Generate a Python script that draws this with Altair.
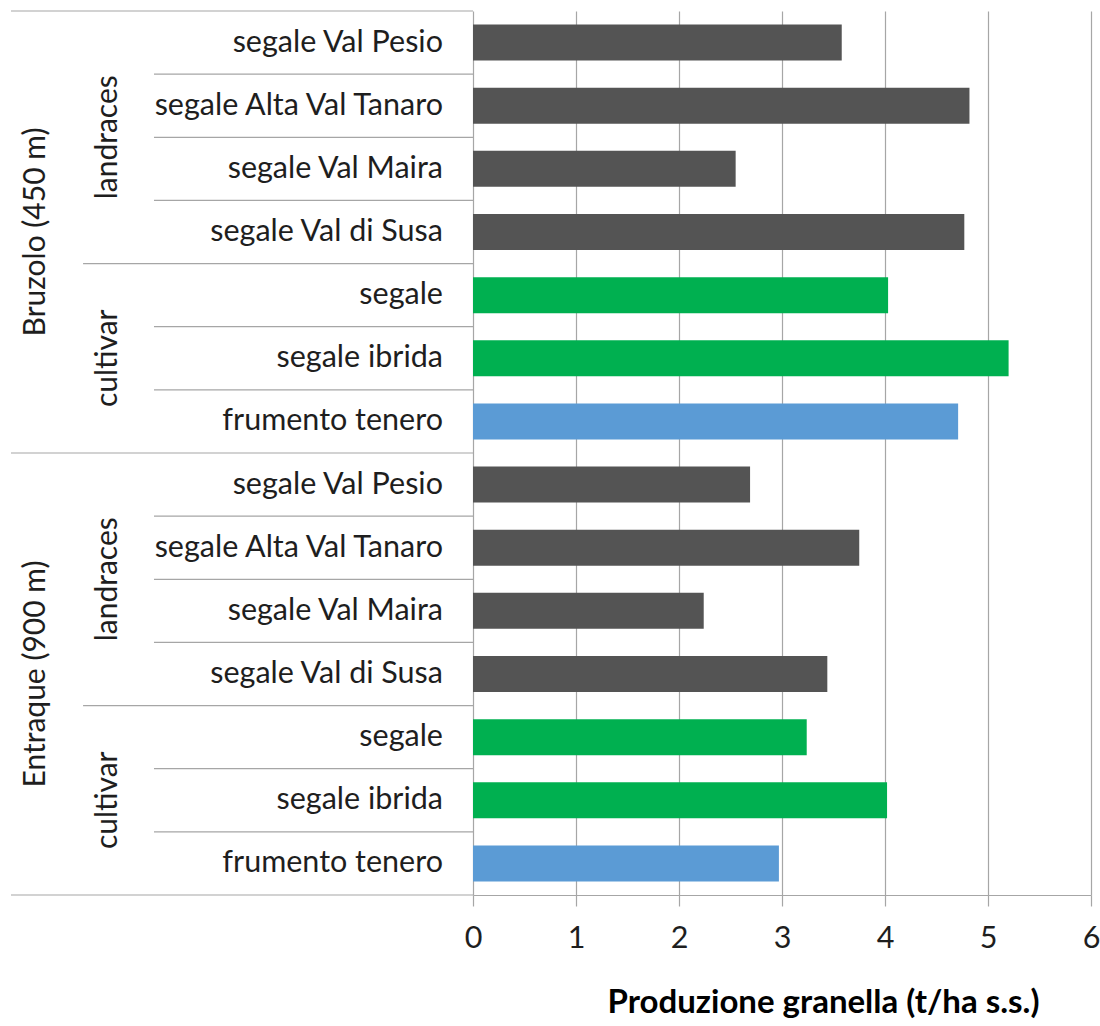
import altair as alt
import pandas as pd

# ---------------- data ----------------
sites = ["Bruzolo (450 m)", "Entraque (900 m)"]
varieties = [
    "segale Val Pesio",
    "segale Alta Val Tanaro",
    "segale Val Maira",
    "segale Val di Susa",
    "segale",
    "segale ibrida",
    "frumento tenero\u00a0",
]
variety_groups = ["landraces", "landraces", "landraces", "landraces",
                  "cultivar", "cultivar", "cultivar"]
variety_kinds = ["landrace", "landrace", "landrace", "landrace",
                 "segale cultivar", "segale cultivar", "frumento"]
bruzolo_values = [3.58, 4.82, 2.55, 4.77, 4.03, 5.20, 4.71]
entraque_values = [2.69, 3.75, 2.24, 3.44, 3.24, 4.02, 2.97]
x_ticks = [0, 1, 2, 3, 4, 5, 6]
kind_domain = ["landrace", "segale cultivar", "frumento"]
kind_colors = ["#545454", "#00b050", "#5b9bd5"]
x_title = "Produzione granella (t/ha s.s.)"

# ---------------- tables ----------------
rows = []
for site, vals in zip(sites, [bruzolo_values, entraque_values]):
    for v, g, k, val in zip(varieties, variety_groups, variety_kinds, vals):
        rows.append(dict(row=len(rows), site=site, group=g, variety=v,
                         kind=k, value=val))
df = pd.DataFrame(rows)
n = len(df)

grp = df.groupby(["site", "group"], sort=False)["row"].agg(["min", "max"]).reset_index()
grp["mid"] = (grp["min"] + grp["max"] + 1) / 2
site_df = df.groupby("site", sort=False)["row"].agg(["min", "max"]).reset_index()
site_df["mid"] = (site_df["min"] + site_df["max"] + 1) / 2

site_starts = set(site_df["min"]) | {n}
group_starts = set(grp["min"])
sep_rows = []
for b in range(n + 1):
    level = 0 if b in site_starts else (1 if b in group_starts else 2)
    sep_rows.append(dict(b=b, level=level))
sep_df = pd.DataFrame(sep_rows)

# ---------------- styling ----------------
FONT = "Lato"
TXT = "#1e1e1e"
GRID = "#a6a6a6"
FS_INNER = 30.5
FS_GROUP = 30
LW, RW, H = 462, 618, 884
X_OUTER, X_MID, X_INNER = 0.054, 0.21, 0.935
SEP_START = "datum.level == 0 ? 0 : (datum.level == 1 ? 0.156 : 0.3095)"

yscale = alt.Scale(domain=[0, n], reverse=True, nice=False, zero=False)
xl = alt.Scale(domain=[0, 1], nice=False, zero=False)

# ---------------- left: hierarchical category labels ----------------
inner = alt.Chart(df).transform_calculate(
    mid="datum.row + 0.5", lx=str(X_INNER)
).mark_text(align="right", baseline="middle", font=FONT, fontSize=FS_INNER, color=TXT).encode(
    x=alt.X("lx:Q", scale=xl, axis=None),
    y=alt.Y("mid:Q", scale=yscale, axis=None),
    text="variety:N",
)

mid_lbl = alt.Chart(grp).transform_calculate(lx=str(X_MID)).mark_text(
    align="center", baseline="middle", angle=270, font=FONT, fontSize=FS_GROUP, color=TXT
).encode(
    x=alt.X("lx:Q", scale=xl, axis=None),
    y=alt.Y("mid:Q", scale=yscale, axis=None),
    text="group:N",
)

outer_lbl = alt.Chart(site_df).transform_calculate(lx=str(X_OUTER)).mark_text(
    align="center", baseline="middle", angle=270, font=FONT, fontSize=FS_GROUP, color=TXT
).encode(
    x=alt.X("lx:Q", scale=xl, axis=None),
    y=alt.Y("mid:Q", scale=yscale, axis=None),
    text="site:N",
)

seps = alt.Chart(sep_df).transform_calculate(
    xs=SEP_START, xe="1"
).mark_rule(color=GRID, strokeWidth=1.2).encode(
    x=alt.X("xs:Q", scale=xl, axis=None),
    x2="xe:Q",
    y=alt.Y("b:Q", scale=yscale, axis=None),
)

left = alt.layer(seps, inner, mid_lbl, outer_lbl).properties(width=LW, height=H)

# ---------------- right: bars ----------------
bars = alt.Chart(df).transform_calculate(
    y0="datum.row + 0.215", y1="datum.row + 0.785", zero="0"
).mark_rect().encode(
    x=alt.X(
        "zero:Q",
        scale=alt.Scale(domain=[0, 6], nice=False, zero=True),
        axis=alt.Axis(
            values=x_ticks, grid=True, gridColor=GRID, gridWidth=1.2,
            domainColor=GRID, domainWidth=1.2, tickColor=GRID, tickWidth=1.2,
            tickSize=11, labelFont=FONT, labelFontSize=FS_INNER, labelColor=TXT,
            labelPadding=17, labelFlush=False, labelOverlap=False,
            title=x_title, titleFont=FONT, titleFontSize=33,
            titleFontWeight="bold", titleColor="#000000", titlePadding=33,
            titleX=350, format="d",
        ),
    ),
    x2="value:Q",
    y=alt.Y("y0:Q", scale=yscale, axis=None),
    y2="y1:Q",
    color=alt.Color("kind:N", scale=alt.Scale(domain=kind_domain, range=kind_colors),
                    legend=None),
)

right = bars.properties(width=RW, height=H)

chart = alt.hconcat(left, right, spacing=0, bounds="flush").properties(
    padding={"left": 10, "top": 10, "right": 0, "bottom": 0}
).configure_view(strokeWidth=0)

chart.save("out.html", embed_options={"renderer": "svg", "actions": False})
